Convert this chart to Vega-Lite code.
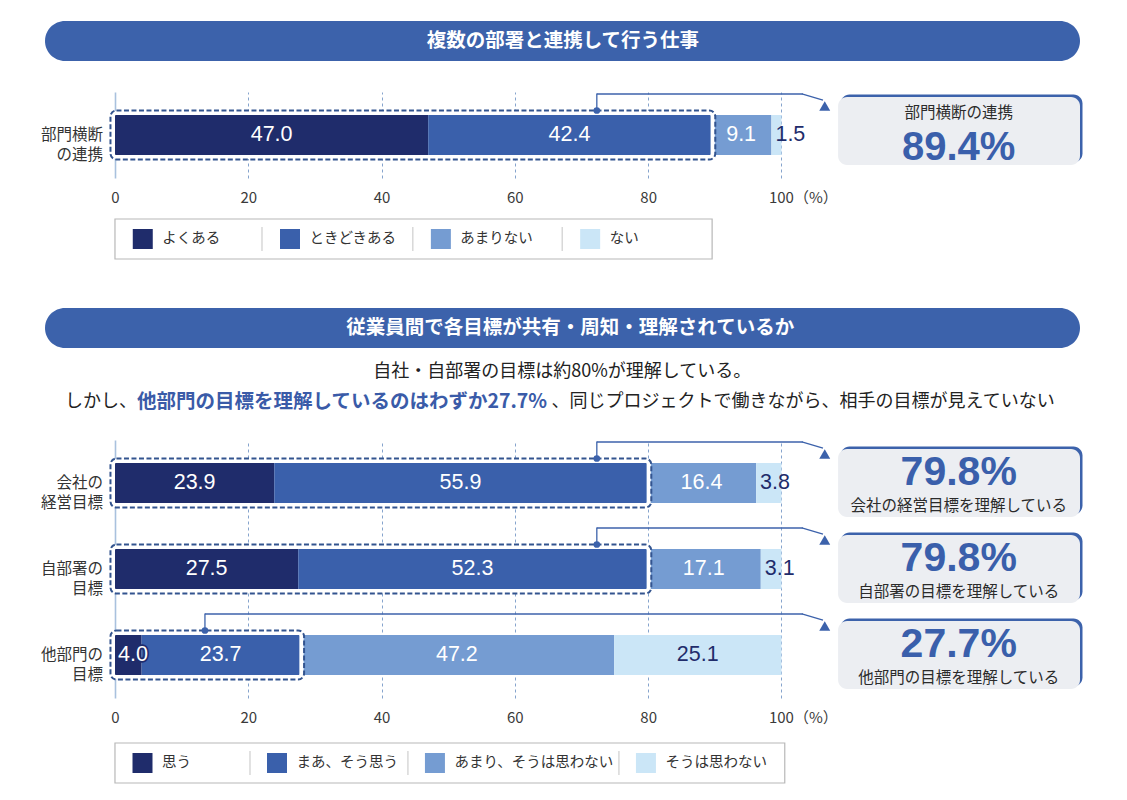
{
  "$schema": "https://vega.github.io/schema/vega-lite/v6.json",
  "background": "white",
  "padding": {"left": 35, "top": 21, "right": 0, "bottom": 0},
  "config": {"view": {"stroke": null}, "font": "Noto Sans CJK JP"},
  "datasets": {
    "top": [
      {"item": "部門横断\nの連携", "category": "よくある", "k": 1, "value": 47.0},
      {"item": "部門横断\nの連携", "category": "ときどきある", "k": 2, "value": 42.4},
      {"item": "部門横断\nの連携", "category": "あまりない", "k": 3, "value": 9.1},
      {"item": "部門横断\nの連携", "category": "ない", "k": 4, "value": 1.5}
    ],
    "bottom": [
      {"item": "会社の\n経営目標", "category": "思う", "k": 1, "value": 23.9},
      {"item": "会社の\n経営目標", "category": "まあ、そう思う", "k": 2, "value": 55.9},
      {"item": "会社の\n経営目標", "category": "あまり、そうは思わない", "k": 3, "value": 16.4},
      {"item": "会社の\n経営目標", "category": "そうは思わない", "k": 4, "value": 3.8},
      {"item": "自部署の\n目標", "category": "思う", "k": 1, "value": 27.5},
      {"item": "自部署の\n目標", "category": "まあ、そう思う", "k": 2, "value": 52.3},
      {"item": "自部署の\n目標", "category": "あまり、そうは思わない", "k": 3, "value": 17.1},
      {"item": "自部署の\n目標", "category": "そうは思わない", "k": 4, "value": 3.1},
      {"item": "他部門の\n目標", "category": "思う", "k": 1, "value": 4.0},
      {"item": "他部門の\n目標", "category": "まあ、そう思う", "k": 2, "value": 23.7},
      {"item": "他部門の\n目標", "category": "あまり、そうは思わない", "k": 3, "value": 47.2},
      {"item": "他部門の\n目標", "category": "そうは思わない", "k": 4, "value": 25.1}
    ]
  },
  "resolve": {"scale": {"color": "independent", "x": "independent", "y": "independent"}},
  "bounds": "flush",
  "spacing": 0,
  "vconcat": [
    {
      "width": 1053,
      "height": 40,
      "data": {"values": [{"title": "複数の部署と連携して行う仕事"}]},
      "layer": [
        {
          "mark": {"type": "rect", "cornerRadius": 20, "color": "#3c62ab"},
          "encoding": {
            "x": {"datum": -10.5, "type": "quantitative", "scale": {"domain": [-12, 146], "nice": false, "zero": false}, "axis": null},
            "x2": {"datum": 144.8},
            "y": {"value": 0},
            "y2": {"value": "height"}
          }
        },
        {
          "mark": {"type": "text", "color": "white", "fontSize": 19.5, "fontWeight": "bold"},
          "encoding": {
            "x": {"datum": 67.2, "type": "quantitative", "scale": {"domain": [-12, 146], "nice": false, "zero": false}, "axis": null},
            "text": {"field": "title", "type": "nominal"}
          }
        }
      ]
    },
    {"width": 1053, "height": 31, "data": {"values": []}, "mark": "point", "encoding": {}},
    {
      "width": 1053,
      "height": 86,
      "data": {"name": "top"},
      "transform": [
        {"stack": "value", "groupby": ["item"], "sort": [{"field": "k", "order": "ascending"}], "as": ["x0", "x1"]},
        {"calculate": "(datum.x0 + datum.x1) / 2", "as": "mid"}
      ],
      "encoding": {
        "y": {"field": "item", "type": "nominal", "scale": {"domain": ["部門横断\nの連携"], "paddingInner": 0, "paddingOuter": 0}, "axis": null}
      },
      "layer": [
        {
          "mark": {"type": "bar", "height": 40},
          "encoding": {
            "x": {
              "field": "x0", "type": "quantitative",
              "scale": {"domain": [-12, 146], "nice": false, "zero": false},
              "axis": {
                "values": [0, 20, 40, 60, 80, 100], "title": null, "domain": false, "ticks": false,
                "labelFontSize": 15, "labelColor": "#3a3a3a", "labelPadding": 12,
                "labelOverlap": false, "labelFlush": false,
                "labelExpr": "datum.value === 100 ? '100（%）' : datum.label",
                "labelAlign": {"condition": {"test": "datum.value === 100", "value": "left"}, "value": "center"},
                "labelOffset": {"condition": {"test": "datum.value === 100", "value": -13}, "value": 0},
                "grid": true,
                "gridColor": {"condition": {"test": "datum.value === 0", "value": "#a9c1de"}, "value": "#86a4cd"},
                "gridDash": {"condition": {"test": "datum.value === 0", "value": []}, "value": [3, 3]},
                "gridWidth": {"condition": {"test": "datum.value === 0", "value": 1.6}, "value": 1}
              }
            },
            "x2": {"field": "x1"},
            "color": {
              "field": "category", "type": "nominal",
              "scale": {"domain": ["よくある", "ときどきある", "あまりない", "ない"], "range": ["#1f2c6b", "#3a60ab", "#759cd2", "#cbe6f7"]},
              "legend": null
            }
          }
        },
        {
          "transform": [{"filter": "datum.k <= 2"}, {"aggregate": [{"op": "min", "field": "x0", "as": "start"}, {"op": "max", "field": "x1", "as": "end"}], "groupby": ["item"]}],
          "mark": {"type": "bar", "height": 44, "fillOpacity": 0, "stroke": "white", "strokeWidth": 4, "xOffset": -2, "x2Offset": 2, "cornerRadius": 3},
          "encoding": {"x": {"field": "start", "type": "quantitative"}, "x2": {"field": "end"}}
        },
        {
          "transform": [{"filter": "datum.k <= 2"}, {"aggregate": [{"op": "min", "field": "x0", "as": "start"}, {"op": "max", "field": "x1", "as": "end"}], "groupby": ["item"]}],
          "mark": {"type": "bar", "height": 49, "fillOpacity": 0, "stroke": "#33548f", "strokeWidth": 2, "strokeDash": [5, 2.5], "xOffset": -4.5, "x2Offset": 4.5, "cornerRadius": 6},
          "encoding": {"x": {"field": "start", "type": "quantitative"}, "x2": {"field": "end"}}
        },
        {
          "transform": [{"filter": "datum.value >= 5"}],
          "mark": {"type": "text", "font": "Liberation Sans", "fontSize": 21.5},
          "encoding": {
            "x": {"field": "mid", "type": "quantitative"},
            "text": {"field": "value", "type": "quantitative", "format": ".1f"},
            "color": {"condition": {"test": "datum.k === 4", "value": "#1f2c6b"}, "value": "white"}
          }
        },
        {
          "transform": [{"filter": "datum.value < 5 && datum.k === 4"}],
          "mark": {"type": "text", "font": "Liberation Sans", "fontSize": 21.5, "align": "left", "dx": 4, "color": "#1f2c6b"},
          "encoding": {
            "x": {"field": "x0", "type": "quantitative"},
            "text": {"field": "value", "type": "quantitative", "format": ".1f"}
          }
        },
        {
          "transform": [{"filter": "datum.k === 1"}],
          "mark": {"type": "text", "align": "right", "fontSize": 15.5, "lineHeight": 20, "lineBreak": "\n", "color": "#333333"},
          "encoding": {"x": {"datum": -1.8, "type": "quantitative"}, "text": {"field": "item", "type": "nominal"}}
        },
        {
          "transform": [{"filter": "datum.k === 1"}],
          "mark": {"type": "bar", "height": 68, "cornerRadius": 9, "color": "#3c62ab", "xOffset": 2.5, "x2Offset": 2.5, "yOffset": -6.5, "y2Offset": -6.5},
          "encoding": {"x": {"datum": 108.5, "type": "quantitative"}, "x2": {"datum": 144.8}}
        },
        {
          "transform": [{"filter": "datum.k === 1"}],
          "mark": {"type": "bar", "height": 68, "cornerRadius": 9, "color": "#eceef2", "yOffset": -4, "y2Offset": -4},
          "encoding": {"x": {"datum": 108.5, "type": "quantitative"}, "x2": {"datum": 144.8}}
        },
        {
          "transform": [
            {"filter": "datum.k === 1"},
            {"calculate": "replace(datum.item, '\\n', '')", "as": "caption"}
          ],
          "mark": {"type": "text", "fontSize": 15.5, "color": "#2b2b2b", "dy": -22},
          "encoding": {"x": {"datum": 126.6, "type": "quantitative"}, "text": {"field": "caption", "type": "nominal"}}
        },
        {
          "transform": [
            {"filter": "datum.k <= 2"},
            {"aggregate": [{"op": "sum", "field": "value", "as": "total"}], "groupby": ["item"]},
            {"calculate": "format(datum.total, '.1f') + '%'", "as": "pct"}
          ],
          "mark": {"type": "text", "font": "Liberation Sans", "fontWeight": "bold", "fontSize": 40, "color": "#3a5fab", "dy": 13},
          "encoding": {"x": {"datum": 126.6, "type": "quantitative"}, "text": {"field": "pct", "type": "nominal"}}
        },
        {
          "transform": [{"filter": "datum.k === 1"}],
          "mark": {"type": "rule", "color": "#3c62ab", "strokeWidth": 1.3, "yOffset": -41},
          "encoding": {"x": {"datum": 72.3, "type": "quantitative"}, "x2": {"datum": 103.2}}
        },
        {
          "transform": [{"filter": "datum.k === 1"}],
          "mark": {"type": "point", "shape": "stroke", "angle": 90, "size": 289, "stroke": "#3c62ab", "strokeWidth": 1.3, "opacity": 1, "yOffset": -33},
          "encoding": {"x": {"datum": 72.3, "type": "quantitative"}}
        },
        {
          "transform": [{"filter": "datum.k === 1"}],
          "mark": {"type": "point", "shape": "circle", "filled": true, "size": 45, "color": "#3c62ab", "opacity": 1, "yOffset": -24.5},
          "encoding": {"x": {"datum": 72.3, "type": "quantitative"}}
        },
        {
          "transform": [{"filter": "datum.k === 1"}],
          "mark": {"type": "point", "shape": "stroke", "angle": 16, "size": 484, "stroke": "#3c62ab", "strokeWidth": 1.3, "opacity": 1, "yOffset": -38},
          "encoding": {"x": {"datum": 104.65, "type": "quantitative"}}
        },
        {
          "transform": [{"filter": "datum.k === 1"}],
          "mark": {"type": "point", "shape": "triangle-up", "filled": true, "size": 120, "color": "#3c62ab", "opacity": 1, "yOffset": -29},
          "encoding": {"x": {"datum": 106.5, "type": "quantitative"}}
        }
      ]
    },
    {"width": 1053, "height": 41, "data": {"values": []}, "mark": "point", "encoding": {}},
    {
      "width": 1053,
      "height": 40,
      "data": {"name": "top"},
      "layer": [
        {
          "transform": [{"filter": "datum.k === 1"}],
          "mark": {"type": "rect", "fill": "white", "stroke": "#b8b8b8", "strokeWidth": 1.2},
          "encoding": {
            "x": {"datum": 0, "type": "quantitative", "scale": {"domain": [-12, 146], "nice": false, "zero": false}, "axis": null},
            "x2": {"datum": 89.6},
            "y": {"value": 0},
            "y2": {"value": "height"}
          }
        },
        {
          "transform": [{"filter": "datum.k === 1"}],
          "mark": {"type": "point", "shape": "square", "filled": true, "size": 400, "opacity": 1},
          "encoding": {
            "x": {"datum": 4.17, "type": "quantitative"},
            "color": {"field": "category", "type": "nominal", "scale": {"domain": ["よくある", "ときどきある", "あまりない", "ない"], "range": ["#1f2c6b", "#3a60ab", "#759cd2", "#cbe6f7"]}, "legend": null}
          }
        },
        {
          "transform": [{"filter": "datum.k === 2"}],
          "mark": {"type": "point", "shape": "square", "filled": true, "size": 400, "opacity": 1},
          "encoding": {"x": {"datum": 26.26, "type": "quantitative"}, "color": {"field": "category", "type": "nominal", "legend": null}}
        },
        {
          "transform": [{"filter": "datum.k === 3"}],
          "mark": {"type": "point", "shape": "square", "filled": true, "size": 400, "opacity": 1},
          "encoding": {"x": {"datum": 48.9, "type": "quantitative"}, "color": {"field": "category", "type": "nominal", "legend": null}}
        },
        {
          "transform": [{"filter": "datum.k === 4"}],
          "mark": {"type": "point", "shape": "square", "filled": true, "size": 400, "opacity": 1},
          "encoding": {"x": {"datum": 71.3, "type": "quantitative"}, "color": {"field": "category", "type": "nominal", "legend": null}}
        },
        {
          "transform": [{"filter": "datum.k === 1"}],
          "mark": {"type": "text", "align": "left", "dx": 19.5, "fontSize": 14.5, "color": "#333333"},
          "encoding": {"x": {"datum": 4.17, "type": "quantitative"}, "text": {"field": "category", "type": "nominal"}}
        },
        {
          "transform": [{"filter": "datum.k === 2"}],
          "mark": {"type": "text", "align": "left", "dx": 19.5, "fontSize": 14.5, "color": "#333333"},
          "encoding": {"x": {"datum": 26.26, "type": "quantitative"}, "text": {"field": "category", "type": "nominal"}}
        },
        {
          "transform": [{"filter": "datum.k === 3"}],
          "mark": {"type": "text", "align": "left", "dx": 19.5, "fontSize": 14.5, "color": "#333333"},
          "encoding": {"x": {"datum": 48.9, "type": "quantitative"}, "text": {"field": "category", "type": "nominal"}}
        },
        {
          "transform": [{"filter": "datum.k === 4"}],
          "mark": {"type": "text", "align": "left", "dx": 19.5, "fontSize": 14.5, "color": "#333333"},
          "encoding": {"x": {"datum": 71.3, "type": "quantitative"}, "text": {"field": "category", "type": "nominal"}}
        },
        {
          "transform": [{"filter": "datum.k === 2"}],
          "mark": {"type": "point", "shape": "stroke", "angle": 90, "size": 576, "stroke": "#c4c4c4", "strokeWidth": 1, "opacity": 1, "xOffset": -28},
          "encoding": {"x": {"datum": 26.26, "type": "quantitative"}}
        },
        {
          "transform": [{"filter": "datum.k === 3"}],
          "mark": {"type": "point", "shape": "stroke", "angle": 90, "size": 576, "stroke": "#c4c4c4", "strokeWidth": 1, "opacity": 1, "xOffset": -28},
          "encoding": {"x": {"datum": 48.9, "type": "quantitative"}}
        },
        {
          "transform": [{"filter": "datum.k === 4"}],
          "mark": {"type": "point", "shape": "stroke", "angle": 90, "size": 576, "stroke": "#c4c4c4", "strokeWidth": 1, "opacity": 1, "xOffset": -28},
          "encoding": {"x": {"datum": 71.3, "type": "quantitative"}}
        }
      ]
    },
    {"width": 1053, "height": 49, "data": {"values": []}, "mark": "point", "encoding": {}},
    {
      "width": 1053,
      "height": 40,
      "data": {"values": [{"title": "従業員間で各目標が共有・周知・理解されているか"}]},
      "layer": [
        {
          "mark": {"type": "rect", "cornerRadius": 20, "color": "#3c62ab"},
          "encoding": {
            "x": {"datum": -10.5, "type": "quantitative", "scale": {"domain": [-12, 146], "nice": false, "zero": false}, "axis": null},
            "x2": {"datum": 144.8},
            "y": {"value": 0},
            "y2": {"value": "height"}
          }
        },
        {
          "mark": {"type": "text", "color": "white", "fontSize": 19.5, "fontWeight": "bold"},
          "encoding": {
            "x": {"datum": 68.3, "type": "quantitative", "scale": {"domain": [-12, 146], "nice": false, "zero": false}, "axis": null},
            "text": {"field": "title", "type": "nominal"}
          }
        }
      ]
    },
    {"width": 1053, "height": 12, "data": {"values": []}, "mark": "point", "encoding": {}},
    {
      "width": 1053,
      "height": 55,
      "data": {"values": [{
        "l1": "自社・自部署の目標は約80%が理解している。",
        "a": "しかし、",
        "b": "他部門の目標を理解しているのはわずか27.7%",
        "c": "、同じプロジェクトで働きながら、相手の目標が見えていない"
      }]},
      "layer": [
        {
          "mark": {"type": "text", "fontSize": 18, "color": "#222222", "dy": -15.5},
          "encoding": {
            "x": {"datum": 67.1, "type": "quantitative", "scale": {"domain": [-12, 146], "nice": false, "zero": false}, "axis": null},
            "text": {"field": "l1", "type": "nominal"}
          }
        },
        {
          "mark": {"type": "text", "fontSize": 18, "color": "#222222", "align": "right", "dy": 14.5},
          "encoding": {"x": {"datum": 3.3, "type": "quantitative"}, "text": {"field": "a", "type": "nominal"}}
        },
        {
          "mark": {"type": "text", "fontSize": 19.5, "fontWeight": "bold", "color": "#3a5ba8", "align": "left", "dy": 14.5},
          "encoding": {"x": {"datum": 3.3, "type": "quantitative"}, "text": {"field": "b", "type": "nominal"}}
        },
        {
          "mark": {"type": "text", "fontSize": 18, "color": "#222222", "align": "right", "dy": 14.5},
          "encoding": {"x": {"datum": 141.0, "type": "quantitative"}, "text": {"field": "c", "type": "nominal"}}
        }
      ]
    },
    {"width": 1053, "height": 25, "data": {"values": []}, "mark": "point", "encoding": {}},
    {
      "width": 1053,
      "height": 258,
      "data": {"name": "bottom"},
      "transform": [
        {"stack": "value", "groupby": ["item"], "sort": [{"field": "k", "order": "ascending"}], "as": ["x0", "x1"]},
        {"calculate": "(datum.x0 + datum.x1) / 2", "as": "mid"}
      ],
      "encoding": {
        "y": {"field": "item", "type": "nominal", "scale": {"domain": ["会社の\n経営目標", "自部署の\n目標", "他部門の\n目標"], "paddingInner": 0, "paddingOuter": 0}, "axis": null}
      },
      "layer": [
        {
          "mark": {"type": "bar", "height": 40},
          "encoding": {
            "x": {
              "field": "x0", "type": "quantitative",
              "scale": {"domain": [-12, 146], "nice": false, "zero": false},
              "axis": {
                "values": [0, 20, 40, 60, 80, 100], "title": null, "domain": false, "ticks": false,
                "labelFontSize": 15, "labelColor": "#3a3a3a", "labelPadding": 12,
                "labelOverlap": false, "labelFlush": false,
                "labelExpr": "datum.value === 100 ? '100（%）' : datum.label",
                "labelAlign": {"condition": {"test": "datum.value === 100", "value": "left"}, "value": "center"},
                "labelOffset": {"condition": {"test": "datum.value === 100", "value": -13}, "value": 0},
                "grid": true,
                "gridColor": {"condition": {"test": "datum.value === 0", "value": "#a9c1de"}, "value": "#86a4cd"},
                "gridDash": {"condition": {"test": "datum.value === 0", "value": []}, "value": [3, 3]},
                "gridWidth": {"condition": {"test": "datum.value === 0", "value": 1.6}, "value": 1}
              }
            },
            "x2": {"field": "x1"},
            "color": {
              "field": "category", "type": "nominal",
              "scale": {"domain": ["思う", "まあ、そう思う", "あまり、そうは思わない", "そうは思わない"], "range": ["#1f2c6b", "#3a60ab", "#759cd2", "#cbe6f7"]},
              "legend": null
            }
          }
        },
        {
          "transform": [{"filter": "datum.k <= 2"}, {"aggregate": [{"op": "min", "field": "x0", "as": "start"}, {"op": "max", "field": "x1", "as": "end"}], "groupby": ["item"]}],
          "mark": {"type": "bar", "height": 44, "fillOpacity": 0, "stroke": "white", "strokeWidth": 4, "xOffset": -2, "x2Offset": 2, "cornerRadius": 3},
          "encoding": {"x": {"field": "start", "type": "quantitative"}, "x2": {"field": "end"}}
        },
        {
          "transform": [{"filter": "datum.k <= 2"}, {"aggregate": [{"op": "min", "field": "x0", "as": "start"}, {"op": "max", "field": "x1", "as": "end"}], "groupby": ["item"]}],
          "mark": {"type": "bar", "height": 49, "fillOpacity": 0, "stroke": "#33548f", "strokeWidth": 2, "strokeDash": [5, 2.5], "xOffset": -4.5, "x2Offset": 4.5, "cornerRadius": 6},
          "encoding": {"x": {"field": "start", "type": "quantitative"}, "x2": {"field": "end"}}
        },
        {
          "transform": [{"filter": "datum.value >= 5"}],
          "mark": {"type": "text", "font": "Liberation Sans", "fontSize": 21.5},
          "encoding": {
            "x": {"field": "mid", "type": "quantitative"},
            "text": {"field": "value", "type": "quantitative", "format": ".1f"},
            "color": {"condition": {"test": "datum.k === 4", "value": "#1f2c6b"}, "value": "white"}
          }
        },
        {
          "transform": [{"filter": "datum.value < 5 && datum.k === 4"}],
          "mark": {"type": "text", "font": "Liberation Sans", "fontSize": 21.5, "align": "left", "dx": 4, "color": "#1f2c6b"},
          "encoding": {
            "x": {"field": "x0", "type": "quantitative"},
            "text": {"field": "value", "type": "quantitative", "format": ".1f"}
          }
        },
        {
          "transform": [{"filter": "datum.value < 5 && datum.k === 1"}],
          "mark": {"type": "text", "font": "Liberation Sans", "fontSize": 21.5, "align": "left", "dx": 3, "color": "#1f2c6b", "stroke": "#1f2c6b", "strokeWidth": 3.5, "strokeJoin": "round"},
          "encoding": {
            "x": {"field": "x0", "type": "quantitative"},
            "text": {"field": "value", "type": "quantitative", "format": ".1f"}
          }
        },
        {
          "transform": [{"filter": "datum.value < 5 && datum.k === 1"}],
          "mark": {"type": "text", "font": "Liberation Sans", "fontSize": 21.5, "align": "left", "dx": 3, "color": "white"},
          "encoding": {
            "x": {"field": "x0", "type": "quantitative"},
            "text": {"field": "value", "type": "quantitative", "format": ".1f"}
          }
        },
        {
          "transform": [{"filter": "datum.k === 1"}],
          "mark": {"type": "text", "align": "right", "fontSize": 15.5, "lineHeight": 20, "lineBreak": "\n", "color": "#333333"},
          "encoding": {"x": {"datum": -1.8, "type": "quantitative"}, "text": {"field": "item", "type": "nominal"}}
        },
        {
          "transform": [{"filter": "datum.k === 1"}],
          "mark": {"type": "bar", "height": 68, "cornerRadius": 9, "color": "#3c62ab", "xOffset": 2.5, "x2Offset": 2.5, "yOffset": -2.5, "y2Offset": -2.5},
          "encoding": {"x": {"datum": 108.5, "type": "quantitative"}, "x2": {"datum": 144.8}}
        },
        {
          "transform": [{"filter": "datum.k === 1"}],
          "mark": {"type": "bar", "height": 68, "cornerRadius": 9, "color": "#eceef2"},
          "encoding": {"x": {"datum": 108.5, "type": "quantitative"}, "x2": {"datum": 144.8}}
        },
        {
          "transform": [
            {"filter": "datum.k <= 2"},
            {"aggregate": [{"op": "sum", "field": "value", "as": "total"}], "groupby": ["item"]},
            {"calculate": "format(datum.total, '.1f') + '%'", "as": "pct"}
          ],
          "mark": {"type": "text", "font": "Liberation Sans", "fontWeight": "bold", "fontSize": 41, "color": "#3a5fab", "dy": -10},
          "encoding": {"x": {"datum": 126.6, "type": "quantitative"}, "text": {"field": "pct", "type": "nominal"}}
        },
        {
          "transform": [
            {"filter": "datum.k === 1"},
            {"calculate": "replace(datum.item, '\\n', '') + 'を理解している'", "as": "caption"}
          ],
          "mark": {"type": "text", "fontSize": 15.5, "color": "#2b2b2b", "dy": 23},
          "encoding": {"x": {"datum": 126.6, "type": "quantitative"}, "text": {"field": "caption", "type": "nominal"}}
        },
        {
          "transform": [{"filter": "datum.k === 1 && indexof(datum.item, '他部門') < 0"}],
          "mark": {"type": "rule", "color": "#3c62ab", "strokeWidth": 1.3, "yOffset": -41},
          "encoding": {"x": {"datum": 72.3, "type": "quantitative"}, "x2": {"datum": 103.2}}
        },
        {
          "transform": [{"filter": "datum.k === 1 && indexof(datum.item, '他部門') < 0"}],
          "mark": {"type": "point", "shape": "stroke", "angle": 90, "size": 289, "stroke": "#3c62ab", "strokeWidth": 1.3, "opacity": 1, "yOffset": -33},
          "encoding": {"x": {"datum": 72.3, "type": "quantitative"}}
        },
        {
          "transform": [{"filter": "datum.k === 1 && indexof(datum.item, '他部門') < 0"}],
          "mark": {"type": "point", "shape": "circle", "filled": true, "size": 45, "color": "#3c62ab", "opacity": 1, "yOffset": -24.5},
          "encoding": {"x": {"datum": 72.3, "type": "quantitative"}}
        },
        {
          "transform": [{"filter": "datum.k === 1 && indexof(datum.item, '他部門') === 0"}],
          "mark": {"type": "rule", "color": "#3c62ab", "strokeWidth": 1.3, "yOffset": -41},
          "encoding": {"x": {"datum": 13.5, "type": "quantitative"}, "x2": {"datum": 103.2}}
        },
        {
          "transform": [{"filter": "datum.k === 1 && indexof(datum.item, '他部門') === 0"}],
          "mark": {"type": "point", "shape": "stroke", "angle": 90, "size": 289, "stroke": "#3c62ab", "strokeWidth": 1.3, "opacity": 1, "yOffset": -33},
          "encoding": {"x": {"datum": 13.5, "type": "quantitative"}}
        },
        {
          "transform": [{"filter": "datum.k === 1 && indexof(datum.item, '他部門') === 0"}],
          "mark": {"type": "point", "shape": "circle", "filled": true, "size": 45, "color": "#3c62ab", "opacity": 1, "yOffset": -24.5},
          "encoding": {"x": {"datum": 13.5, "type": "quantitative"}}
        },
        {
          "transform": [{"filter": "datum.k === 1"}],
          "mark": {"type": "point", "shape": "stroke", "angle": 16, "size": 484, "stroke": "#3c62ab", "strokeWidth": 1.3, "opacity": 1, "yOffset": -38},
          "encoding": {"x": {"datum": 104.65, "type": "quantitative"}}
        },
        {
          "transform": [{"filter": "datum.k === 1"}],
          "mark": {"type": "point", "shape": "triangle-up", "filled": true, "size": 120, "color": "#3c62ab", "opacity": 1, "yOffset": -29},
          "encoding": {"x": {"datum": 106.5, "type": "quantitative"}}
        }
      ]
    },
    {"width": 1053, "height": 45, "data": {"values": []}, "mark": "point", "encoding": {}},
    {
      "width": 1053,
      "height": 40,
      "data": {"name": "bottom"},
      "transform": [{"filter": "indexof(datum.item, '会社') === 0"}],
      "layer": [
        {
          "transform": [{"filter": "datum.k === 1"}],
          "mark": {"type": "rect", "fill": "white", "stroke": "#b8b8b8", "strokeWidth": 1.2},
          "encoding": {
            "x": {"datum": 0, "type": "quantitative", "scale": {"domain": [-12, 146], "nice": false, "zero": false}, "axis": null},
            "x2": {"datum": 100.5},
            "y": {"value": 0},
            "y2": {"value": "height"}
          }
        },
        {
          "transform": [{"filter": "datum.k === 1"}],
          "mark": {"type": "point", "shape": "square", "filled": true, "size": 400, "opacity": 1},
          "encoding": {
            "x": {"datum": 4.13, "type": "quantitative"},
            "color": {"field": "category", "type": "nominal", "scale": {"domain": ["思う", "まあ、そう思う", "あまり、そうは思わない", "そうは思わない"], "range": ["#1f2c6b", "#3a60ab", "#759cd2", "#cbe6f7"]}, "legend": null}
          }
        },
        {
          "transform": [{"filter": "datum.k === 2"}],
          "mark": {"type": "point", "shape": "square", "filled": true, "size": 400, "opacity": 1},
          "encoding": {"x": {"datum": 24.31, "type": "quantitative"}, "color": {"field": "category", "type": "nominal", "legend": null}}
        },
        {
          "transform": [{"filter": "datum.k === 3"}],
          "mark": {"type": "point", "shape": "square", "filled": true, "size": 400, "opacity": 1},
          "encoding": {"x": {"datum": 48.01, "type": "quantitative"}, "color": {"field": "category", "type": "nominal", "legend": null}}
        },
        {
          "transform": [{"filter": "datum.k === 4"}],
          "mark": {"type": "point", "shape": "square", "filled": true, "size": 400, "opacity": 1},
          "encoding": {"x": {"datum": 79.67, "type": "quantitative"}, "color": {"field": "category", "type": "nominal", "legend": null}}
        },
        {
          "transform": [{"filter": "datum.k === 1"}],
          "mark": {"type": "text", "align": "left", "dx": 19.5, "fontSize": 14.5, "color": "#333333"},
          "encoding": {"x": {"datum": 4.13, "type": "quantitative"}, "text": {"field": "category", "type": "nominal"}}
        },
        {
          "transform": [{"filter": "datum.k === 2"}],
          "mark": {"type": "text", "align": "left", "dx": 19.5, "fontSize": 14.5, "color": "#333333"},
          "encoding": {"x": {"datum": 24.31, "type": "quantitative"}, "text": {"field": "category", "type": "nominal"}}
        },
        {
          "transform": [{"filter": "datum.k === 3"}],
          "mark": {"type": "text", "align": "left", "dx": 19.5, "fontSize": 14.5, "color": "#333333"},
          "encoding": {"x": {"datum": 48.01, "type": "quantitative"}, "text": {"field": "category", "type": "nominal"}}
        },
        {
          "transform": [{"filter": "datum.k === 4"}],
          "mark": {"type": "text", "align": "left", "dx": 19.5, "fontSize": 14.5, "color": "#333333"},
          "encoding": {"x": {"datum": 79.67, "type": "quantitative"}, "text": {"field": "category", "type": "nominal"}}
        },
        {
          "transform": [{"filter": "datum.k === 2"}],
          "mark": {"type": "point", "shape": "stroke", "angle": 90, "size": 576, "stroke": "#c4c4c4", "strokeWidth": 1, "opacity": 1, "xOffset": -27},
          "encoding": {"x": {"datum": 24.31, "type": "quantitative"}}
        },
        {
          "transform": [{"filter": "datum.k === 3"}],
          "mark": {"type": "point", "shape": "stroke", "angle": 90, "size": 576, "stroke": "#c4c4c4", "strokeWidth": 1, "opacity": 1, "xOffset": -27},
          "encoding": {"x": {"datum": 48.01, "type": "quantitative"}}
        },
        {
          "transform": [{"filter": "datum.k === 4"}],
          "mark": {"type": "point", "shape": "stroke", "angle": 90, "size": 576, "stroke": "#c4c4c4", "strokeWidth": 1, "opacity": 1, "xOffset": -27},
          "encoding": {"x": {"datum": 79.67, "type": "quantitative"}}
        }
      ]
    }
  ]
}
